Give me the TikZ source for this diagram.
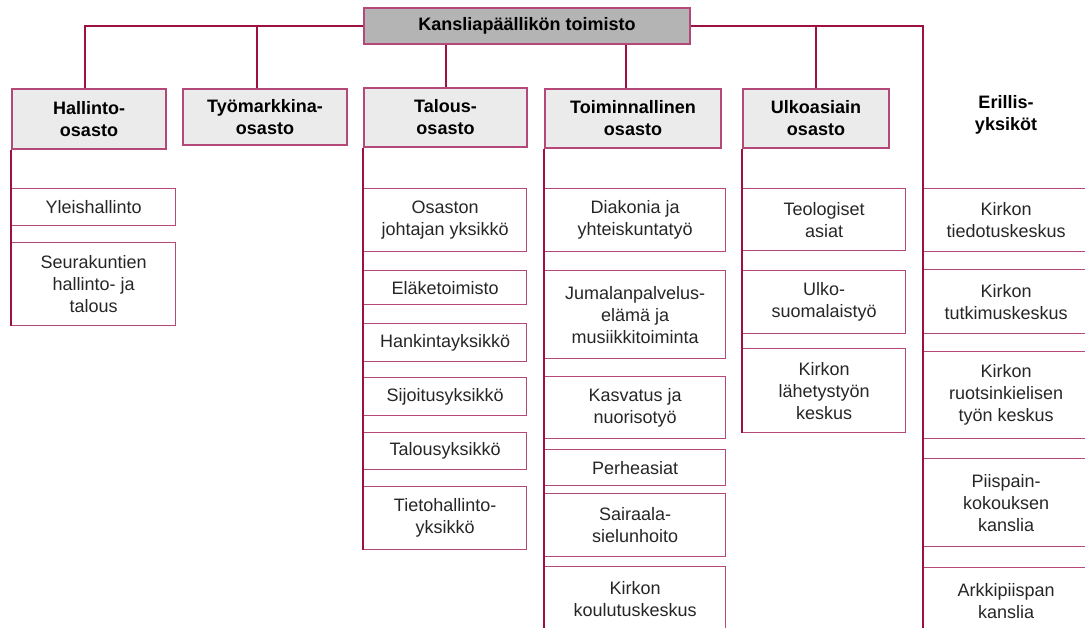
\documentclass[tikz,border=0pt]{standalone}
\usepackage{fontspec}
\setmainfont{Liberation Sans}

\definecolor{linecol}{RGB}{158,16,66}
\definecolor{boxcol}{RGB}{180,72,120}
\definecolor{deptfill}{RGB}{235,235,235}
\definecolor{topfill}{RGB}{180,180,180}

\newcommand\orgfont{\fontsize{18}{22}\selectfont}

\tikzset{
  dept/.style={draw=boxcol, line width=2pt, fill=deptfill, anchor=north west,
    align=center, inner sep=0pt, font=\orgfont\bfseries},
  unit/.style={draw=boxcol, line width=1.3pt, anchor=north west,
    align=center, inner sep=0pt, text=black!85},
  link/.style={draw=linecol, line width=2pt}
}

\begin{document}
\begin{tikzpicture}[x=1pt, y=-1pt, font=\orgfont]
\path[use as bounding box, clip] (0,0) rectangle (1085,627);

\path (363,7) node[dept, fill=topfill, minimum width=326, minimum height=36] (top) {Kansliapäällikön toimisto}
      (11,88) node[dept, minimum width=154, minimum height=60] (d1) {Hallinto-\\osasto}
      (182,88) node[dept, minimum width=164, minimum height=56] (d2) {Työmarkkina-\\osasto}
      (363,87) node[dept, minimum width=163, minimum height=59] (d3) {Talous-\\osasto}
      (544,88) node[dept, minimum width=176, minimum height=59] (d4) {Toiminnallinen\\osasto}
      (742,88) node[dept, minimum width=146, minimum height=59] (d5) {Ulkoasiain\\osasto}
      (1006,115) node[font=\orgfont\bfseries, align=center, inner sep=0pt] (eri) {Erillis-\\yksiköt};

\path (11,188) node[unit, minimum width=164, minimum height=37] (h1) {Yleishallinto}
      (11,242) node[unit, minimum width=164, minimum height=83] (h2) {Seurakuntien\\hallinto- ja\\talous};

\path (363,188) node[unit, minimum width=163, minimum height=63] (t1) {Osaston\\johtajan yksikkö}
      (363,270) node[unit, minimum width=163, minimum height=34] (t2) {Eläketoimisto}
      (363,323) node[unit, minimum width=163, minimum height=38] (t3) {Hankintayksikkö}
      (363,377) node[unit, minimum width=163, minimum height=38] (t4) {Sijoitusyksikkö}
      (363,432) node[unit, minimum width=163, minimum height=37] (t5) {Talousyksikkö}
      (363,486) node[unit, minimum width=163, minimum height=63] (t6) {Tietohallinto-\\yksikkö};

\path (544,188) node[unit, minimum width=181, minimum height=63] (k1) {Diakonia ja\\yhteiskuntatyö}
      (544,270) node[unit, minimum width=181, minimum height=88] (k2) {Jumalanpalvelus-\\elämä ja\\musiikkitoiminta}
      (544,376) node[unit, minimum width=181, minimum height=62] (k3) {Kasvatus ja\\nuorisotyö}
      (544,449) node[unit, minimum width=181, minimum height=36] (k4) {Perheasiat}
      (544,493) node[unit, minimum width=181, minimum height=63] (k5) {Sairaala-\\sielunhoito}
      (544,566) node[unit, minimum width=181, minimum height=64] (k6) {Kirkon\\koulutuskeskus};

\path (742,188) node[unit, minimum width=163, minimum height=62] (u1) {Teologiset\\asiat}
      (742,270) node[unit, minimum width=163, minimum height=63] (u2) {Ulko-\\suomalaistyö}
      (742,348) node[unit, minimum width=163, minimum height=84] (u3) {Kirkon\\lähetystyön\\keskus};

\path (923,188) node[unit, minimum width=165, minimum height=63] (e1) {Kirkon\\tiedotuskeskus}
      (923,269) node[unit, minimum width=165, minimum height=64] (e2) {Kirkon\\tutkimuskeskus}
      (923,351) node[unit, minimum width=165, minimum height=87] (e3) {Kirkon\\ruotsinkielisen\\työn keskus}
      (923,458) node[unit, minimum width=165, minimum height=88] (e4) {Piispain-\\kokouksen\\kanslia}
      (923,567) node[unit, minimum width=165, minimum height=66] (e5) {Arkkipiispan\\kanslia};

\draw[link] (top.west) -| ([xshift=-4pt]d1.north);
\draw[link] ([xshift=-8pt]d2.north) -- ([xshift=-8pt]d2.north |- top.west);
\draw[link] (d3.north) -- (d3.north |- top.south);
\draw[link] ([xshift=-7pt]d4.north) -- ([xshift=-7pt]d4.north |- top.south);
\draw[link] (d5.north) -- (d5.north |- top.east);
\draw[link] (top.east) -| (e5.south west);

\draw[link] (d1.south west) -- (h2.south west);
\draw[link] (d3.south west) -- (t6.south west);
\draw[link] (d4.south west) -- (k6.south west);
\draw[link] (d5.south west) -- (u3.south west);

\end{tikzpicture}
\end{document}
